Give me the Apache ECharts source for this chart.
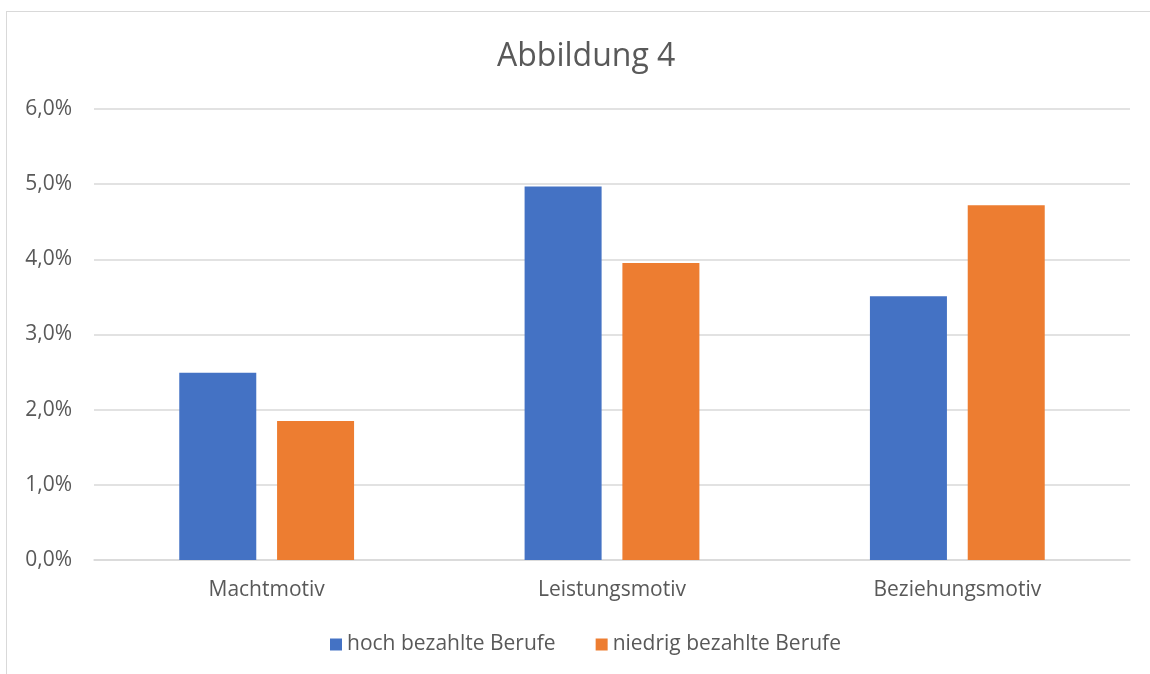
<!DOCTYPE html>
<html><head><meta charset="utf-8">
<script src="https://cdn.jsdelivr.net/npm/echarts@6/dist/echarts.min.js"></script>
<style>
html,body{margin:0;padding:0;background:#fff;}
#frame{position:absolute;left:6px;top:11px;width:1160px;height:680px;border:1.5px solid #d9d9d9;box-sizing:border-box;}
#c{position:absolute;left:0;top:0;width:1150px;height:674px;}
</style></head>
<body><div id="frame"></div><div id="c"></div>
<script>
const categories = ['Machtmotiv','Leistungsmotiv','Beziehungsmotiv'];
const seriesNames = ['hoch bezahlte Berufe','niedrig bezahlte Berufe'];
const hochValues = [2.49, 4.97, 3.51];
const niedrigValues = [1.85, 3.95, 4.72];
const yTicks = [0,1,2,3,4,5,6];

const chart = echarts.init(document.getElementById('c'));
const font = "'Open Sans', 'Noto Sans', sans-serif";
chart.setOption({
  animation:false,
  title:{text:'Abbildung 4',left:492,top:36,textStyle:{fontFamily:font,fontSize:32,fontWeight:'normal',color:'#595959'}},
  grid:{left:94,right:20,top:109,bottom:114},
  legend:{bottom:14,left:325,itemWidth:12,itemHeight:12,itemGap:40,icon:'rect',
    textStyle:{fontFamily:font,fontSize:21,color:'#595959'},data:seriesNames},
  xAxis:{type:'category',data:categories,axisTick:{show:false},
    axisLine:{lineStyle:{color:'#d9d9d9',width:1.5}},
    axisLabel:{fontFamily:font,fontSize:21,color:'#595959',margin:20}},
  yAxis:{type:'value',min:0,max:6,interval:1,
    axisLabel:{fontFamily:font,fontSize:21,color:'#595959',margin:22,
      formatter:v=>v.toFixed(1).replace('.',',')+'%'},
    splitLine:{lineStyle:{color:'#d9d9d9',width:1.5}},axisLine:{show:false},axisTick:{show:false}},
  series:[
    {name:seriesNames[0],type:'bar',data:hochValues,barWidth:'22.3%',barGap:'27%',itemStyle:{color:'#4472c4'}},
    {name:seriesNames[1],type:'bar',data:niedrigValues,barWidth:'22.3%',itemStyle:{color:'#ed7d31'}}
  ]
});
</script></body></html>
